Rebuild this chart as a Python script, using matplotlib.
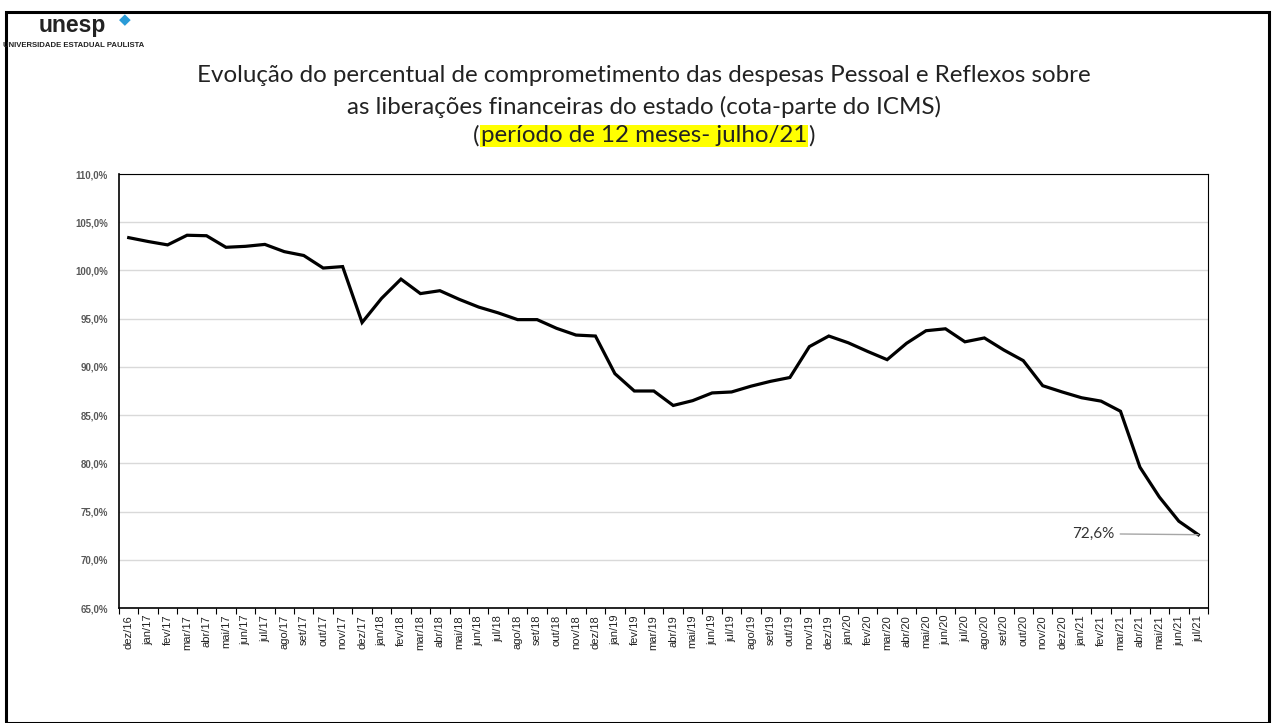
#!/usr/bin/env python3
# -*- coding: utf-8 -*-

import matplotlib
matplotlib.use('Agg')
import matplotlib.pyplot as plt
from matplotlib.patches import Rectangle
import numpy

# months dez/16 .. jul/21
months = ['dez/16',
          'jan/17', 'fev/17', 'mar/17', 'abr/17', 'mai/17', 'jun/17', 'jul/17', 'ago/17', 'set/17', 'out/17', 'nov/17', 'dez/17',
          'jan/18', 'fev/18', 'mar/18', 'abr/18', 'mai/18', 'jun/18', 'jul/18', 'ago/18', 'set/18', 'out/18', 'nov/18', 'dez/18',
          'jan/19', 'fev/19', 'mar/19', 'abr/19', 'mai/19', 'jun/19', 'jul/19', 'ago/19', 'set/19', 'out/19', 'nov/19', 'dez/19',
          'jan/20', 'fev/20', 'mar/20', 'abr/20', 'mai/20', 'jun/20', 'jul/20', 'ago/20', 'set/20', 'out/20', 'nov/20', 'dez/20',
          'jan/21', 'fev/21', 'mar/21', 'abr/21', 'mai/21', 'jun/21', 'jul/21']

# percent committed (12 month window)
pct = [103.4,
       103.0, 102.65, 103.65, 103.6, 102.4, 102.5, 102.7, 101.95, 101.55, 100.25, 100.4, 94.6,
       97.1, 99.1, 97.6, 97.9, 97.0, 96.2, 95.6, 94.9, 94.9, 94.0, 93.3, 93.2,
       89.3, 87.5, 87.5, 86.0, 86.5, 87.3, 87.4, 88.0, 88.5, 88.9, 92.1, 93.2,
       92.5, 91.6, 90.75, 92.45, 93.75, 93.95, 92.6, 93.0, 91.75, 90.65, 88.05, 87.4,
       86.8, 86.45, 85.4, 79.6, 76.5, 74.0, 72.6]

yticks = [65, 70, 75, 80, 85, 90, 95, 100, 105, 110]

fig = plt.figure(figsize=(12.73, 7.23), dpi=100)

# slide frame
fig.patches.append(Rectangle((6/1273, 0.0), 1263/1273, 1 - 12/723, transform=fig.transFigure,
                             fill=False, edgecolor='black', linewidth=2.2))

# logo
fig.text(39/1273, 1 - 32/723, 'unesp', fontsize=16.5, fontweight='bold', color='#222222',
         family='Liberation Sans', va='baseline')
fig.text(125/1273, 1 - 20/723, '\u25c6', fontsize=11, color='#2a9bd7', va='center', ha='center')
fig.text(3/1273, 1 - 47/723, 'UNIVERSIDADE ESTADUAL PAULISTA', fontsize=5.6, fontweight='bold',
         color='#222222', family='Liberation Sans', va='baseline')

# title
tx = 644/1273
tfont = dict(family='Lato', fontsize=17.4, color='#222222', ha='center', va='center')
fig.text(tx, 1 - 76/723, 'Evolução do percentual de comprometimento das despesas Pessoal e Reflexos sobre', **tfont)
fig.text(tx, 1 - 107/723, 'as liberações financeiras do estado (cota-parte do ICMS)', **tfont)
hl = fig.text(tx, 1 - 136/723, 'período de 12 meses- julho/21',
              bbox=dict(facecolor='#ffff00', edgecolor='none', pad=0.5), **tfont)
fig.canvas.draw()
ext = hl.get_window_extent()
inv = fig.transFigure.inverted()
x0 = inv.transform((ext.x0, 0))[0]
x1 = inv.transform((ext.x1, 0))[0]
fig.text(x0 - 0.001, 1 - 136/723, '(', **{**tfont, 'ha': 'right'})
fig.text(x1 + 0.001, 1 - 136/723, ')', **{**tfont, 'ha': 'left'})

ax = fig.add_axes([119/1273, 1 - 608/723, (1208 - 119)/1273, (608 - 174)/723])
x = numpy.arange(len(months))
ax.plot(x, pct, color='black', linewidth=2.3, solid_joinstyle='miter', zorder=3)

ax.set_xlim(-0.5, len(months) - 0.5)
ax.set_ylim(65, 110)
ax.set_yticks(yticks)
ax.set_yticklabels(['{:.1f}%'.format(v).replace('.', ',') for v in yticks],
                   fontsize=7, fontweight='bold', color='#595959', family='Liberation Sans')
ax.yaxis.grid(True, color='#d9d9d9', linewidth=1)
ax.set_axisbelow(True)
ax.tick_params(axis='y', length=0, pad=8)

ax.set_xticks(x)
ax.set_xticklabels(months, rotation=90, fontsize=8, color='#222222', family='Liberation Sans')
ax.set_xticks(numpy.arange(len(months) + 1) - 0.5, minor=True)
ax.tick_params(axis='x', which='major', length=0, pad=5)
ax.tick_params(axis='x', which='minor', length=4, width=0.8, color='black')

for s in ['left', 'bottom']:
  ax.spines[s].set_linewidth(1.2)
  ax.spines[s].set_color('black')
for s in ['top', 'right']:
  ax.spines[s].set_linewidth(0.8)
  ax.spines[s].set_color('black')

# last value label
ax.annotate('72,6%', xy=(x[-1], pct[-1]), xytext=(x[-1] - 4.3, pct[-1] + 0.1),
            fontsize=11, family='Lato', color='#333333', ha='right', va='center',
            arrowprops=dict(arrowstyle='-', color='#a6a6a6', linewidth=1, shrinkA=2, shrinkB=0))

fig.savefig('out.png', dpi=100)
